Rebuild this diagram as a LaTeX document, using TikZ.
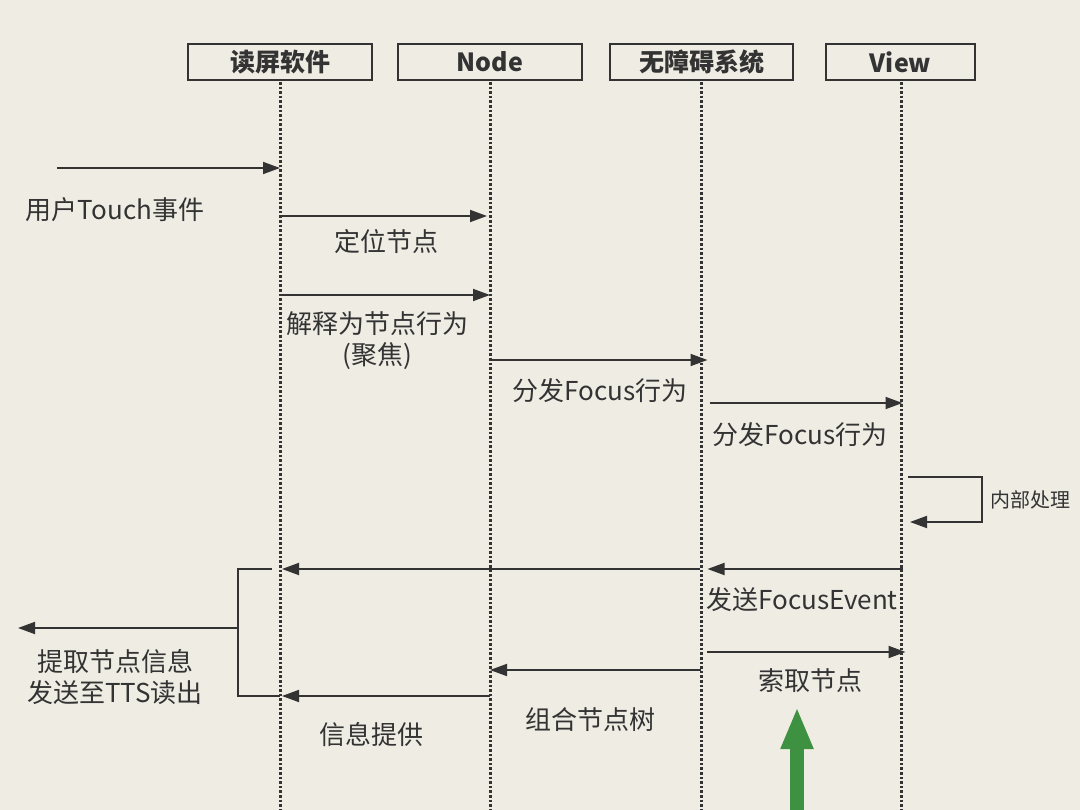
\documentclass[tikz,border=0pt]{standalone}
\usepackage{fontspec}
\setmainfont{Noto Sans CJK SC}
\usetikzlibrary{arrows.meta}
\definecolor{paper}{RGB}{239,236,228}
\definecolor{ink}{RGB}{51,51,51}
\definecolor{hint}{RGB}{61,145,64}
\tikzset{
  actor/.style={draw=ink, line width=1.4pt, minimum height=36pt, inner sep=0pt,
    text=ink, font=\bfseries\fontsize{25}{28}\selectfont},
  lifeline/.style={ink, line width=3pt, line cap=butt, dash pattern=on 2.6pt off 2pt},
  msg/.style={-{Triangle[length=17pt,width=12pt]}, ink, line width=1.8pt},
  wire/.style={ink, line width=1.8pt},
  lbl/.style={text=ink, align=center, inner sep=0pt, font=\fontsize{26}{31}\selectfont},
  small/.style={text=ink, inner sep=0pt, font=\fontsize{20}{22}\selectfont}
}
\begin{document}
\begin{tikzpicture}[x=1pt,y=-1pt]
\fill[paper] (0,0) rectangle (1080,810);
\useasboundingbox (0,0) rectangle (1080,810);
% participants
\node[actor, minimum width=184pt] (reader) at (280,62) {读屏软件};
\node[actor, minimum width=184pt] (node) at (490,62) {Node};
\node[actor, minimum width=183pt] (a11y) at (701.5,62) {无障碍系统};
\node[actor, minimum width=149pt] (view) at (900.5,62) {View};
\foreach \p/\x in {reader/280, node/490, a11y/701, view/901}
  \draw[lifeline] (\x,82) -- (\x,810);
% messages
\coordinate (touch) at (57,168);
\coordinate (locate) at (280,216);
\coordinate (explain) at (280,295);
\coordinate (dispatch) at (490,360);
\coordinate (forward) at (710,403);
\coordinate (inner) at (908,477);
\coordinate (event) at (903,569);
\coordinate (fork) at (238,628);
\coordinate (tts) at (18,628);
\coordinate (fetch) at (707,652);
\coordinate (tree) at (701,670);
\coordinate (supply) at (490,696);
\draw[msg] (touch) -- (touch -| reader);
\draw[msg] (locate) -- ([xshift=-3pt]locate -| node);
\draw[msg] (explain) -- (explain -| node);
\draw[msg] (dispatch) -- ([xshift=6pt]dispatch -| a11y);
\draw[msg] (forward) -- ([xshift=2pt]forward -| view);
\draw[msg] (inner) -- ++(74,0) -- ++(0,45) -- ++(-72,0);
\draw[msg] (event) -- ([xshift=6pt]event -| a11y);
\draw[msg] ([xshift=-2pt]event -| a11y) -- ([xshift=2pt]event -| reader);
\draw[wire] ([xshift=-8pt]event -| reader) -| (fork |- supply) -- (supply -| reader);
\draw[msg] (fork) -- (tts);
\draw[msg] (fetch) -- ([xshift=5pt]fetch -| view);
\draw[msg] (tree) -- (tree -| node);
\draw[msg] (supply) -- ([xshift=2pt]supply -| reader);
% labels
\node[lbl] (touchlbl) at (115,210) {用户Touch事件};
\node[lbl] (locatelbl) at (386,242) {定位节点};
\node[lbl] (explainlbl) at (377,341) {解释为节点行为\\(聚焦)};
\node[lbl] (dispatchlbl) at (600,391) {分发Focus行为};
\node[lbl] (forwardlbl) at (800,435) {分发Focus行为};
\node[small] (innerlbl) at (1030,500) {内部处理};
\node[lbl] (eventlbl) at (802,600) {发送FocusEvent};
\node[lbl] (ttslbl) at (115,677) {提取节点信息\\发送至TTS读出};
\node[lbl] (fetchlbl) at (810,681) {索取节点};
\node[lbl] (treelbl) at (590,720) {组合节点树};
\node[lbl] (supplylbl) at (371,735) {信息提供};
% highlight
\draw[hint, line width=14pt, -{Triangle[length=42pt,width=30pt]}] (797,810) -- (797,707);
\end{tikzpicture}
\end{document}
